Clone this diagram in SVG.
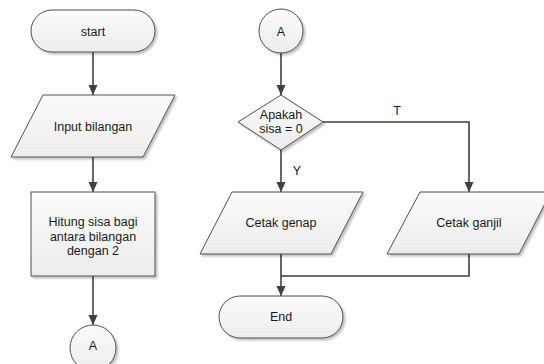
<svg xmlns="http://www.w3.org/2000/svg" width="544" height="364" viewBox="0 0 544 364">
<defs>
<linearGradient id="g" x1="0" y1="0" x2="0" y2="1">
<stop offset="0" stop-color="#fbfbfb"/>
<stop offset="1" stop-color="#ececec"/>
</linearGradient>
<filter id="sh" x="-10%" y="-10%" width="130%" height="140%">
<feDropShadow dx="2" dy="2" stdDeviation="1.2" flood-color="#000" flood-opacity="0.25"/>
</filter>
<marker id="arr" markerWidth="10" markerHeight="12" refX="11" refY="5" orient="auto" markerUnits="userSpaceOnUse" viewBox="0 0 11 10">
<path d="M0,0 L11,5 L0,10 Z" fill="#404040"/>
</marker>
</defs>
<style>
.shape{fill:url(#g);stroke:#505050;stroke-width:1;filter:url(#sh)}
.t{font-family:"Liberation Sans",Arial,sans-serif;font-size:12.5px;fill:#1a1a1a;text-anchor:middle}
.c{fill:none;stroke:#404040;stroke-width:1.6}
</style>
<rect width="544" height="364" fill="#ffffff"/>
<g id="connectors">
<path class="c" d="M93,52 V95" marker-end="url(#arr)"/>
<path class="c" d="M93,157 V192" marker-end="url(#arr)"/>
<path class="c" d="M93,276 V325" marker-end="url(#arr)"/>
<path class="c" d="M281,53 V95" marker-end="url(#arr)"/>
<path class="c" d="M281,150 V192" marker-end="url(#arr)"/>
<path class="c" d="M323,122 H469 V192" marker-end="url(#arr)"/>
<path class="c" d="M281,254 V296" marker-end="url(#arr)"/>
<path class="c" d="M469,254 V276 H281"/>
<text class="t" x="397" y="115">T</text>
<text class="t" x="297" y="175">Y</text>
</g>
<g id="start">
<rect class="shape" x="31" y="10" width="124" height="42" rx="21" ry="21"/>
<text class="t" x="93" y="36">start</text>
</g>
<g id="input">
<polygon class="shape" points="43,95 175,95 143,157 11,157"/>
<text class="t" x="93" y="131">Input bilangan</text>
</g>
<g id="hitung">
<rect class="shape" x="31" y="192" width="124" height="84"/>
<text class="t" x="93" y="226">Hitung sisa bagi</text>
<text class="t" x="93" y="240.5">antara bilangan</text>
<text class="t" x="93" y="255">dengan 2</text>
</g>
<g id="connA1">
<circle class="shape" cx="93" cy="348" r="23"/>
<text class="t" x="93" y="350">A</text>
</g>
<g id="connA2">
<circle class="shape" cx="281" cy="31" r="22"/>
<text class="t" x="281" y="36">A</text>
</g>
<g id="decision">
<polygon class="shape" points="281,95 323,122 281,150 238,122"/>
<text class="t" x="281" y="119">Apakah</text>
<text class="t" x="281" y="133">sisa = 0</text>
</g>
<g id="genap">
<polygon class="shape" points="232,192 363,192 331,254 200,254"/>
<text class="t" x="281" y="227">Cetak genap</text>
</g>
<g id="ganjil">
<polygon class="shape" points="420,192 551,192 519,254 387,254"/>
<text class="t" x="469" y="227">Cetak ganjil</text>
</g>
<g id="end">
<rect class="shape" x="219" y="296" width="124" height="42" rx="21" ry="21"/>
<text class="t" x="281" y="321">End</text>
</g>
</svg>
